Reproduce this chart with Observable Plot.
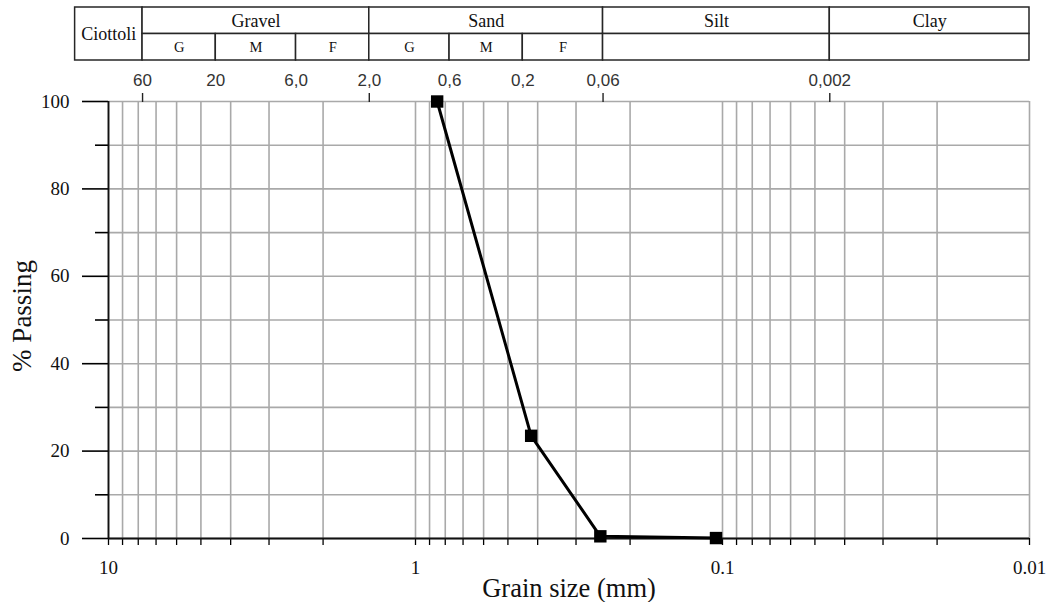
<!DOCTYPE html>
<html>
<head>
<meta charset="utf-8">
<script src="https://cdn.jsdelivr.net/npm/d3@7"></script>
<script src="https://cdn.jsdelivr.net/npm/@observablehq/plot@0.6"></script>
<style>
  body { margin: 0; background: #fff; }
  #chart { width: 1054px; }
  #chart svg { display: block; }
</style>
</head>
<body>
<div id="chart"></div>
<script>
// ---- data ----
const grainSize = [0.85, 0.42, 0.25, 0.105];   // mm
const passing   = [100, 23.5, 0.5, 0.1];       // %

const xDecades      = [10, 1, 0.1, 0.01];
const xDecadeLabels = ["10", "1", "0.1", "0.01"];
const yMajor = [0, 20, 40, 60, 80, 100];
const yMinor = [10, 30, 50, 70, 90];

// classification (top) scale, in mm
const topTickValues = [60, 20, 6, 2, 0.6, 0.2, 0.06, 0.002];
const topTickLabels = ["60", "20", "6,0", "2,0", "0,6", "0,2", "0,06", "0,002"];
const topBoundaries = [60, 2, 0.06, 0.002];

const classNames = ["Ciottoli", "Gravel", "Sand", "Silt", "Clay"];
const classFrom  = [165, 60, 2, 0.06, 0.002];
const classTo    = [60, 2, 0.06, 0.002, 0.0001];
const subNames = ["G", "M", "F", "G", "M", "F", "", ""];
const subFrom  = [60, 20, 6, 2, 0.6, 0.2, 0.06, 0.002];
const subTo    = [20, 6, 2, 0.6, 0.2, 0.06, 0.002, 0.0001];

// ---- derived ----
const data = grainSize.map((s, i) => ({size: s, pass: passing[i]}));
// the classification scale is drawn with half the log-density of the grain-size axis
const topScale = d => Math.sqrt(d);

const minorX = [];
for (const base of [1, 0.1, 0.01]) for (let k = 2; k <= 9; k++) minorX.push(k * base);
const gridXVals = xDecades.concat(minorX);
const gridYVals = yMajor.concat(yMinor);

const cells = [];
classNames.forEach((n, i) => cells.push({name: n, from: classFrom[i], to: classTo[i], lo: i === 0 ? 0 : 1, hi: 2, main: true}));
subNames.forEach((n, i) => cells.push({name: n, from: subFrom[i], to: subTo[i], lo: 0, hi: 1, main: false}));

const serif = "'Liberation Serif', 'Times New Roman', serif";
const sans  = "'Liberation Sans', Arial, sans-serif";
const W = 1054, ML = 108, MR = 25;
const xScale = {type: "log", domain: [10, 0.01], label: null};

// ---- top table ----
const topPlot = Plot.plot({
  width: W, height: 61, marginTop: 7, marginBottom: 1, marginLeft: ML, marginRight: MR,
  style: {fontFamily: serif, background: "white", overflow: "visible"},
  x: {...xScale, axis: null},
  y: {domain: [0, 2], axis: null, label: null},
  marks: [
    Plot.rect(cells, {x1: d => topScale(d.from), x2: d => topScale(d.to), y1: "lo", y2: "hi",
      fill: "white", stroke: "#262626", strokeWidth: 1.5}),
    Plot.text(cells.filter(d => d.main), {x: d => topScale(Math.sqrt(d.from * d.to)), y: d => (d.lo + d.hi) / 2,
      text: "name", fontSize: 18, fontFamily: serif, fill: "#111"}),
    Plot.text(cells.filter(d => !d.main), {x: d => topScale(Math.sqrt(d.from * d.to)), y: d => (d.lo + d.hi) / 2,
      text: "name", fontSize: 14.5, fontFamily: serif, fill: "#111"})
  ]
});

// ---- main chart ----
const mainPlot = Plot.plot({
  width: W, height: 541, marginTop: 40, marginBottom: 64, marginLeft: ML, marginRight: MR,
  style: {fontFamily: serif, fontSize: "19px", background: "transparent", overflow: "visible"},
  x: xScale,
  y: {domain: [0, 100], label: null},
  marks: [
    Plot.gridX(gridXVals, {stroke: "#a9a9a9", strokeOpacity: 1, strokeWidth: 1.6}),
    Plot.gridY(gridYVals, {stroke: "#a9a9a9", strokeOpacity: 1, strokeWidth: 1.6}),
    Plot.axisX(xDecades, {anchor: "bottom", tickSize: 7, tickPadding: 15, strokeWidth: 1.3,
      tickFormat: d => xDecadeLabels[xDecades.indexOf(d)], fontSize: 19, fontFamily: serif, fill: "#111", label: null}),
    Plot.axisX(minorX, {anchor: "bottom", tickSize: 7, strokeWidth: 1.3, tickFormat: () => "", label: null}),
    Plot.axisY(yMajor, {anchor: "left", tickSize: 26, tickPadding: 13, strokeWidth: 1.6,
      fontSize: 19, fontFamily: serif, fill: "#111", label: null}),
    Plot.axisY(yMinor, {anchor: "left", tickSize: 13, strokeWidth: 1.6, tickFormat: () => "", label: null}),
    Plot.ruleX([10], {stroke: "#111", strokeWidth: 1.8}),
    Plot.ruleY([0], {stroke: "#111", strokeWidth: 1.8}),
    Plot.axisX(topBoundaries.map(topScale), {anchor: "top", tickSize: 9, strokeWidth: 1.4, stroke: "#222",
      tickFormat: () => "", label: null}),
    Plot.text(topTickValues, {x: topScale, text: (d, i) => topTickLabels[i], frameAnchor: "top", lineAnchor: "middle", dy: -21,
      fontFamily: sans, fontSize: 17, fill: "#333"}),
    Plot.line(data, {x: "size", y: "pass", stroke: "black", strokeWidth: 3}),
    Plot.dot(data, {x: "size", y: "pass", symbol: "square", r: 7, fill: "black", stroke: "none"}),
    Plot.text(["Grain size (mm)"], {text: d => d, frameAnchor: "bottom", lineAnchor: "middle", dy: 50,
      fontSize: 26.5, fontFamily: serif, fill: "#111"}),
    Plot.text(["% Passing"], {text: d => d, frameAnchor: "left", textAnchor: "middle", lineAnchor: "middle", rotate: -90, dx: -86, dy: -4,
      fontSize: 27, fontFamily: serif, fill: "#111"})
  ]
});

const chart = document.getElementById("chart");
chart.append(topPlot, mainPlot);
</script>
</body>
</html>
